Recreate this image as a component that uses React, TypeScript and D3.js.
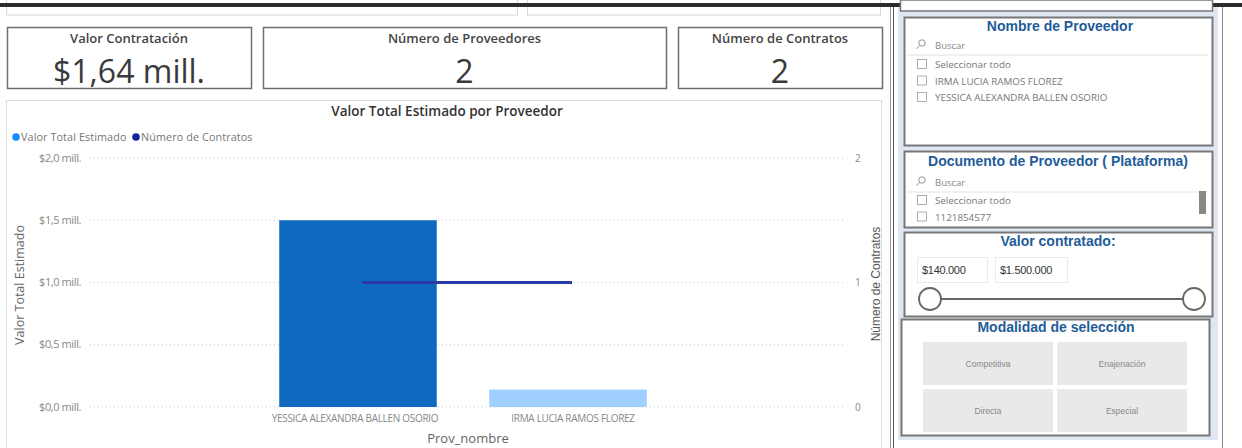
import React from "react";
import * as d3 from "d3";

const providers = ["YESSICA ALEXANDRA BALLEN OSORIO", "IRMA LUCIA RAMOS FLOREZ"];
const valorTotal = [1.5, 0.14]; // millones
const numContratos = [1, 1];
const leftTicks = [0, 0.5, 1, 1.5, 2];
const rightTicks = [0, 1, 2];
const barColors = ["#0F6ABF", "#A0D0FF"];

const kpiTitles = ["Valor Contratación", "Número de Proveedores", "Número de Contratos"];
const kpiValues = ["$1,64 mill.", "2", "2"];

const slicerProveedorItems = ["Seleccionar todo", "IRMA LUCIA RAMOS FLOREZ", "YESSICA ALEXANDRA BALLEN OSORIO"];
const slicerDocumentoItems = ["Seleccionar todo", "1121854577"];
const rangoValor = ["$140.000", "$1.500.000"];
const modalidades = ["Competitiva", "Enajenación", "Directa", "Especial"];

const SANS = "'Open Sans', 'Noto Sans', sans-serif";
const ARIAL = "'Liberation Sans', Arial, sans-serif";
const TITLE_BLUE = "#1F5C99";

function SearchRow({ y }: { y: number }) {
  return (
    <g>
      <circle cx={922} cy={y - 4} r={3.2} fill="none" stroke="#888" strokeWidth={0.9} />
      <line x1={919.6} y1={y - 1.6} x2={916.5} y2={y + 1.8} stroke="#888" strokeWidth={0.9} />
      <text x={935} y={y + 2} fontSize={9.5} fill="#888" fontFamily={SANS}>Buscar</text>
      <line x1={907} x2={1208} y1={y + 8} y2={y + 8} stroke="#e2e2e2" strokeWidth={1} />
    </g>
  );
}

function CheckItem({ y, label }: { y: number; label: string }) {
  return (
    <g>
      <rect x={917.5} y={y - 8.5} width={9} height={9} fill="#fff" stroke="#999" strokeWidth={0.8} />
      <text x={935} y={y} fontSize={9.8} fill="#777" fontFamily={SANS}>{label}</text>
    </g>
  );
}

export default function App() {
  const x = d3.scaleBand<string>().domain(providers).range([253, 673]).paddingInner(0.25).paddingOuter(0.125);
  const yL = d3.scaleLinear().domain([0, 2]).range([407, 158]);
  const yR = d3.scaleLinear().domain([0, 2]).range([407, 158]);
  const line = d3
    .line<number>()
    .x((_, i) => (x(providers[i]) as number) + x.bandwidth() / 2 + 4)
    .y((d) => yR(d));

  const fmt = (v: number) => `$${v.toFixed(1).replace(".", ",")} mill.`;

  const kpis = [
    { x0: 7, x1: 251 },
    { x0: 263, x1: 666 },
    { x0: 678, x1: 882 },
  ];

  return (
    <svg
      width={1242}
      height={448}
      style={{ position: "fixed", left: 0, top: 0, display: "block", background: "#fff" }}
      fontFamily={SANS}
    >
      <rect x={0} y={0} width={1242} height={448} fill="#fff" />

      {/* top partial boxes */}
      <rect x={6.5} y={-5} width={511} height={20} fill="#fff" stroke="#d6d6d6" strokeWidth={1} />
      <rect x={527.5} y={-5} width={353} height={20} fill="#fff" stroke="#d6d6d6" strokeWidth={1} />

      {/* KPI cards */}
      {kpis.map((k, i) => (
        <g key={i}>
          <rect x={k.x0 + 0.5} y={27.5} width={k.x1 - k.x0} height={61} fill="#fff" stroke="#6e6e6e" strokeWidth={1.5} />
          <text x={(k.x0 + k.x1) / 2} y={42.5} textAnchor="middle" fontSize={13} fontWeight={600} fill="#444">
            {kpiTitles[i]}
          </text>
          <text x={(k.x0 + k.x1) / 2} y={83} textAnchor="middle" fontSize={32} fontWeight={400} fill="#3a3a3a">
            {kpiValues[i]}
          </text>
        </g>
      ))}

      {/* Chart container */}
      <rect x={6.5} y={100.5} width={875} height={360} fill="#fff" stroke="#dcdcdc" strokeWidth={1} />
      <text x={447} y={115.5} textAnchor="middle" fontSize={13.5} fontWeight={600} fill="#333">
        Valor Total Estimado por Proveedor
      </text>

      {/* legend */}
      <circle cx={16} cy={137} r={3.8} fill="#118DFF" />
      <text x={21} y={140.5} fontSize={10.8} fill="#777" letterSpacing={0.1}>Valor Total Estimado</text>
      <circle cx={136} cy={137} r={3.8} fill="#12239E" />
      <text x={141} y={140.5} fontSize={10.8} fill="#777" letterSpacing={0.1}>Número de Contratos</text>

      {/* gridlines */}
      {leftTicks.map((t) => (
        <line key={t} x1={90} x2={845} y1={yL(t)} y2={yL(t)} stroke="#c4c4c4" strokeWidth={1} strokeDasharray="1,3" />
      ))}
      {leftTicks.map((t) => (
        <text key={"l" + t} x={81} y={yL(t) + 3.5} textAnchor="end" fontSize={11} fill="#888" letterSpacing={-0.4}>
          {fmt(t)}
        </text>
      ))}
      {rightTicks.map((t) => (
        <text key={"r" + t} x={855} y={yR(t) + 3.5} fontSize={10} fill="#888">
          {t}
        </text>
      ))}

      <text transform="translate(23.5,285) rotate(-90)" textAnchor="middle" fontSize={12.5} fill="#666">
        Valor Total Estimado
      </text>
      <text transform="translate(880,284) rotate(-90)" textAnchor="middle" fontSize={12} fill="#555" fontFamily={ARIAL}>
        Número de Contratos
      </text>

      {/* bars */}
      {providers.map((p, i) => (
        <rect
          key={p}
          x={x(p)}
          y={yL(valorTotal[i])}
          width={x.bandwidth()}
          height={yL(0) - yL(valorTotal[i])}
          fill={barColors[i]}
        />
      ))}

      {/* line */}
      <path d={line(numContratos) || ""} fill="none" stroke="#2A3BA8" strokeWidth={3} />

      {/* x labels */}
      {providers.map((p) => (
        <text key={"x" + p} x={(x(p) as number) + x.bandwidth() / 2 + (p === providers[1] ? 5 : -3)} y={421.5} textAnchor="middle" fontSize={10} fill="#888" letterSpacing={-0.3}>
          {p}
        </text>
      ))}
      <text x={468} y={443} textAnchor="middle" fontSize={13} fill="#666">
        Prov_nombre
      </text>

      {/* top dark line */}
      <rect x={0} y={3} width={1242} height={4} fill="#2b2b2b" />

      {/* Right panel */}
      <rect x={895} y={7} width={326} height={441} fill="#fff" />
      <rect x={898} y={7} width={320} height={433} fill="#dfe8f2" />
      <line x1={890.5} x2={890.5} y1={7} y2={448} stroke="#999" strokeWidth={1} />
      <line x1={893.5} x2={893.5} y1={7} y2={448} stroke="#555" strokeWidth={1} />
      <line x1={1222.5} x2={1222.5} y1={7} y2={448} stroke="#888" strokeWidth={1} />
      <rect x={900.5} y={0} width={312} height={11} fill="#fff" stroke="#777" strokeWidth={1.5} />

      {/* Slicer 1 */}
      <rect x={904.5} y={17.5} width={308} height={128} fill="#fff" stroke="#777" strokeWidth={2} />
      <text x={1060} y={31} textAnchor="middle" fontSize={14} fontWeight={700} fill={TITLE_BLUE} fontFamily={ARIAL}>
        Nombre de Proveedor
      </text>
      <SearchRow y={47} />
      {slicerProveedorItems.map((s, i) => (
        <CheckItem key={s} y={68 + i * 16.5} label={s} />
      ))}

      {/* Slicer 2 */}
      <rect x={904.5} y={151.5} width={308} height={76} fill="#fff" stroke="#777" strokeWidth={2} />
      <text x={1058} y={166} textAnchor="middle" fontSize={14} fontWeight={700} fill={TITLE_BLUE} fontFamily={ARIAL}>
        Documento de Proveedor ( Plataforma)
      </text>
      <SearchRow y={184} />
      {slicerDocumentoItems.map((s, i) => (
        <CheckItem key={s} y={204 + i * 16.5} label={s} />
      ))}
      <rect x={1199} y={191} width={7} height={23} fill="#888" />

      {/* Slicer 3 */}
      <rect x={904.5} y={232.5} width={308} height={84} fill="#fff" stroke="#777" strokeWidth={2} />
      <text x={1058} y={246} textAnchor="middle" fontSize={14} fontWeight={700} fill={TITLE_BLUE} fontFamily={ARIAL}>
        Valor contratado:
      </text>
      {rangoValor.map((r, i) => (
        <g key={r}>
          <rect x={917.5 + i * 78} y={257.5} width={i === 0 ? 70 : 72} height={25} fill="#fff" stroke="#eaeaea" strokeWidth={1} />
          <text x={922 + i * 78} y={274} fontSize={11} fill="#333" fontFamily={ARIAL} letterSpacing={-0.3}>{r}</text>
        </g>
      ))}
      <line x1={930} x2={1194} y1={299} y2={299} stroke="#666" strokeWidth={2} />
      <circle cx={930} cy={299} r={11} fill="#fff" stroke="#666" strokeWidth={1.8} />
      <circle cx={1194} cy={299} r={11} fill="#fff" stroke="#666" strokeWidth={1.8} />

      {/* Slicer 4 */}
      <rect x={901.5} y={319.5} width={308} height={116} fill="#fff" stroke="#777" strokeWidth={2} />
      <text x={1056} y={332} textAnchor="middle" fontSize={14} fontWeight={700} fill={TITLE_BLUE} fontFamily={ARIAL}>
        Modalidad de selección
      </text>
      {modalidades.map((m, i) => {
        const col = i % 2;
        const row = Math.floor(i / 2);
        const bx = 923 + col * 134;
        const by = 342 + row * 47;
        return (
          <g key={m}>
            <rect x={bx} y={by} width={130} height={43} fill="#e9e9e9" />
            <text x={bx + 65} y={by + 25} textAnchor="middle" fontSize={8.5} fill="#888" fontFamily={ARIAL}>
              {m}
            </text>
          </g>
        );
      })}
    </svg>
  );
}
